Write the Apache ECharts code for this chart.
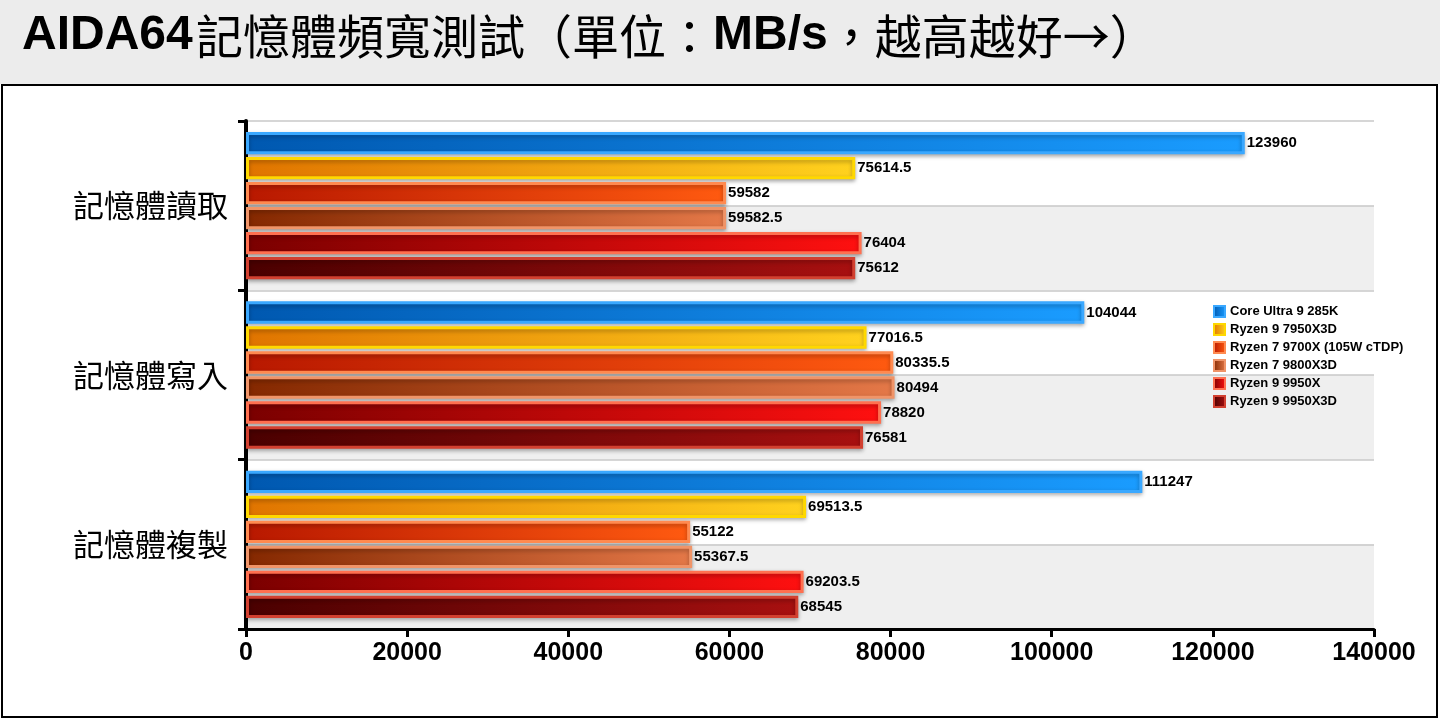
<!DOCTYPE html>
<html><head><meta charset="utf-8">
<script src="https://cdn.jsdelivr.net/npm/echarts@6/dist/echarts.min.js"></script>
<style>html,body{margin:0;padding:0;background:#fff}#c{width:1440px;height:720px}</style>
</head><body><div id="c"></div>
<script>
const categories = ['記憶體讀取','記憶體寫入','記憶體複製'];
const seriesNames = ['Core Ultra 9 285K','Ryzen 9 7950X3D','Ryzen 7 9700X (105W cTDP)','Ryzen 7 9800X3D','Ryzen 9 9950X','Ryzen 9 9950X3D'];
const v285K = [123960, 104044, 111247];
const v7950X3D = [75614.5, 77016.5, 69513.5];
const v9700X = [59582, 80335.5, 55122];
const v9800X3D = [59582.5, 80494, 55367.5];
const v9950X = [76404, 78820, 69203.5];
const v9950X3D = [75612, 76581, 68545];
const xTicks = [0,20000,40000,60000,80000,100000,120000,140000];

const allData = [v285K, v7950X3D, v9700X, v9800X3D, v9950X, v9950X3D];
const styles = [
  ['#0058b0','#1a9cff','#3aa8ff'],
  ['#e07400','#ffd21e','#ffd800'],
  ['#b81800','#ff5a10','#ff8a50'],
  ['#842800','#e47848','#f09468'],
  ['#7a0000','#ff1010','#ff7050'],
  ['#4a0000','#a81010','#d24030']
];
const chart = echarts.init(document.getElementById('c'));
chart.setOption({
  animation:false,
  graphic:[
    {type:'rect',shape:{x:0,y:0,width:1440,height:84},style:{fill:'#ececec'}},
    {type:'rect',shape:{x:2,y:85,width:1435,height:632},style:{fill:'none',stroke:'#000',lineWidth:2}},
    {type:'text',left:22,top:12,style:{rich:{b:{fontFamily:'Liberation Sans',fontWeight:'bold',fontSize:48,fill:'#000'},n:{fontFamily:'Noto Sans CJK TC',fontSize:47,fill:'#000'}},
      text:'{b|AIDA64} {n|記憶體頻寬測試（單位：}{b|MB/s}{n|，越高越好→）}'}}
  ],
  legend:{orient:'vertical',left:1208,top:300,itemWidth:11,itemHeight:11,itemGap:5,icon:'rect',
    textStyle:{fontFamily:'Liberation Sans',fontWeight:'bold',fontSize:13,color:'#000'},data:seriesNames},
  grid:{left:246,right:66,top:121,bottom:91},
  xAxis:{type:'value',min:0,max:140000,interval:20000,
    axisLine:{show:true,lineStyle:{color:'#000',width:3}},axisTick:{show:true,length:8,lineStyle:{color:'#000',width:3}},
    splitLine:{show:false},
    axisLabel:{fontFamily:'Liberation Sans',fontWeight:'bold',fontSize:25,color:'#000',margin:12,formatter:v=>String(v)}},
  yAxis:[{type:'category',data:categories,inverse:true,offset:4,
    axisLine:{show:true,lineStyle:{color:'#000',width:4}},axisTick:{show:true,length:8,lineStyle:{color:'#000',width:3}},
    axisLabel:{fontFamily:'Noto Sans CJK TC',fontSize:31,color:'#000',margin:14}},
   {type:'category',data:['a','b','c','d','e','f'],position:'left',inverse:true,show:true,
    axisLine:{show:false},axisTick:{show:false},axisLabel:{show:false},
    splitLine:{show:true,lineStyle:{color:'#c8c8c8',width:1.5}},
    splitArea:{show:true,areaStyle:{color:['rgba(255,255,255,0)','#efefef']}}}],
  series: seriesNames.map((n,i)=>({
    name:n,type:'bar',data:allData[i],yAxisIndex:0,barGap:'12%',barCategoryGap:'13%',
    itemStyle:{color:new echarts.graphic.LinearGradient(0,0,1,0,[{offset:0,color:styles[i][0]},{offset:1,color:styles[i][1]}]),
      borderColor:styles[i][2],borderWidth:3,shadowColor:'rgba(0,0,0,0.3)',shadowBlur:4,shadowOffsetY:2},
    label:{show:true,position:'right',distance:2,fontFamily:'Liberation Sans',fontWeight:'bold',fontSize:15,color:'#000'}
  }))
});
</script></body></html>
